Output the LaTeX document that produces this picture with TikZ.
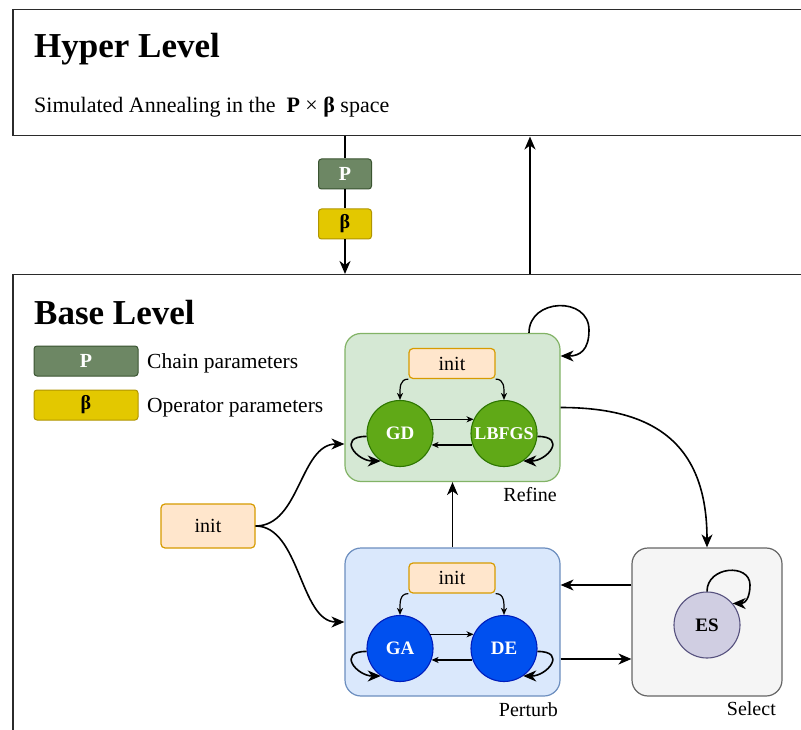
\documentclass[tikz,border=0pt]{standalone}
\usepackage{fontspec}
\setmainfont{Liberation Serif}
\usetikzlibrary{arrows.meta}
\definecolor{outer}{HTML}{2B2B2B}
\definecolor{pfill}{HTML}{6D8764}
\definecolor{pborder}{HTML}{3A5431}
\definecolor{bfill}{HTML}{E3C800}
\definecolor{bborder}{HTML}{B09500}
\definecolor{rfill}{HTML}{D5E8D4}
\definecolor{rborder}{HTML}{82B366}
\definecolor{ptfill}{HTML}{DAE8FC}
\definecolor{ptborder}{HTML}{6C8EBF}
\definecolor{sfill}{HTML}{F5F5F5}
\definecolor{sborder}{HTML}{666666}
\definecolor{ifill}{HTML}{FFE6CC}
\definecolor{iborder}{HTML}{D79B00}
\definecolor{gdfill}{HTML}{60A917}
\definecolor{gdborder}{HTML}{2D7600}
\definecolor{gafill}{HTML}{0050EF}
\definecolor{gaborder}{HTML}{001DBC}
\definecolor{esfill}{HTML}{D0CEE2}
\definecolor{esborder}{HTML}{56517E}
\tikzset{
  lvl/.style={draw=outer, line width=1.5pt, anchor=north west, minimum width=830pt, inner sep=0pt},
  parbox/.style={rounded corners=3pt, line width=1pt, minimum height=30pt, inner sep=0pt, font=\bfseries\fontsize{20}{22}\selectfont},
  chainbox/.style={parbox, draw=pborder, fill=pfill, text=white},
  opbox/.style={parbox, draw=bborder, fill=bfill, text=black},
  initbox/.style={draw=iborder, fill=ifill, rounded corners=4pt, line width=1.2pt, minimum width=86pt, minimum height=30pt, inner sep=0pt, font=\fontsize{20}{22}\selectfont},
  group/.style={rounded corners=16pt, line width=1.2pt, minimum width=215pt, minimum height=148pt, inner sep=0pt},
  alg/.style={circle, minimum size=66pt, inner sep=0pt, line width=1.1pt, font=\bfseries\fontsize{19}{21}\selectfont},
  arr/.style={-{Stealth[length=13pt,width=11pt,inset=4pt]}, line width=1.6pt},
  sarr/.style={-{Stealth[length=7pt,width=6pt,inset=2pt]}, line width=1.2pt},
  lbl/.style={anchor=base east, inner sep=0pt, font=\fontsize{20}{22}\selectfont},
  title/.style={anchor=base west, inner sep=0pt, font=\bfseries\fontsize{35}{40}\selectfont},
  txt/.style={anchor=base west, inner sep=0pt, font=\fontsize{21.5}{24}\selectfont}
}
\begin{document}
\begin{tikzpicture}[x=1pt,y=-1pt]
\useasboundingbox (0,0) rectangle (801,730);
\clip (0,0) rectangle (801,730);
\fill[white] (0,0) rectangle (801,730);

% levels
\node[lvl, minimum height=126pt] (hyper) at (12,9) {};
\node[lvl, minimum height=500pt] (base) at (12,274) {};
\node[title] (htitle) at (34,58) {Hyper Level};
\node[txt, font=\fontsize{22}{24}\selectfont] (hsub) at (34,113) {Simulated Annealing in the \ \textbf{P} × \textbf{β} space};
\node[title] (btitle) at (34,324) {Base Level};

% hyper -> base parameters
\node[chainbox, minimum width=53pt] (hp) at (345,174) {P};
\node[opbox, minimum width=53pt] (hb) at (345,224) {β};
\draw[line width=1.6pt] (hyper.south -| hp) -- (hp.north);
\draw[line width=1.6pt] (hp.south) -- (hb.north);
\draw[arr] (hb.south) -- (base.north -| hb);
\coordinate (upx) at (530,0);
\draw[arr] (base.north -| upx) -- (hyper.south -| upx);

% legend
\node[chainbox, minimum width=104pt] (lp) at (86,361) {P};
\node[opbox, minimum width=104pt] (lb) at (86,405) {β};
\node[txt] (lpt) at (147,368) {Chain parameters};
\node[txt] (lbt) at (147,412) {Operator parameters};

% groups
\node[group, fill=rfill, draw=rborder] (refine) at (452.5,407.5) {};
\node[group, fill=ptfill, draw=ptborder] (perturb) at (452.5,622) {};
\node[group, fill=sfill, draw=sborder, minimum width=150pt] (select) at (707,622) {};
\node[lbl] (refl) at (557,501) {Refine};
\node[lbl] (perl) at (558,716) {Perturb};
\node[lbl] (sell) at (776,715) {Select};

% refine contents
\node[initbox] (rinit) at (452,363.5) {init};
\node[alg, fill=gdfill, draw=gdborder, text=white] (gd) at (400,433.5) {GD};
\node[alg, fill=gdfill, draw=gdborder, text=white, font=\bfseries\fontsize{18}{20}\selectfont] (lbfgs) at (504,433.5) {LBFGS};
\draw[sarr] (rinit.south west) .. controls +(-9,0) and +(0,-12) .. (gd.north);
\draw[sarr] (rinit.south east) .. controls +(9,0) and +(0,-12) .. (lbfgs.north);
\draw[sarr] (gd.25) -- (lbfgs.155);
\draw[sarr] (lbfgs.-160) -- (gd.-20);
\draw[arr] (gd.185) .. controls +(-30,0) and +(-24,0) .. (gd.235);
\draw[arr] (lbfgs.-5) .. controls +(30,0) and +(24,0) .. (lbfgs.-55);

% perturb contents
\node[initbox] (pinit) at (452,578) {init};
\node[alg, fill=gafill, draw=gaborder, text=white] (ga) at (400,648.5) {GA};
\node[alg, fill=gafill, draw=gaborder, text=white] (de) at (504,648.5) {DE};
\draw[sarr] (pinit.south west) .. controls +(-9,0) and +(0,-12) .. (ga.north);
\draw[sarr] (pinit.south east) .. controls +(9,0) and +(0,-12) .. (de.north);
\draw[sarr] (ga.25) -- (de.155);
\draw[sarr] (de.-160) -- (ga.-20);
\draw[arr] (ga.185) .. controls +(-30,0) and +(-24,0) .. (ga.235);
\draw[arr] (de.-5) .. controls +(30,0) and +(24,0) .. (de.-55);

% select contents
\node[alg, fill=esfill, draw=esborder, text=black] (es) at (707,625) {ES};
\draw[arr] (es.north) .. controls (707,566) and (750,563) .. (750,585)
                      .. controls (750,598) and (745,603.5) .. (es.40);

% outer init
\node[initbox, minimum width=94pt, minimum height=44pt] (oinit) at (208,526) {init};
\coordinate (yr) at (0,444);
\draw[arr] (oinit.east) .. controls (300,526) and (300,444) .. (refine.west |- yr);
\draw[arr] (oinit.east) .. controls (300,526) and (300,622) .. (perturb.west);

% group connectors
\draw[arr] (perturb.north) -- (refine.south);
\draw[arr] (refine.east) .. controls (650,407.5) and (707,440) .. (select.north);
\coordinate (ya) at (0,585);
\coordinate (yb) at (0,659);
\draw[arr] (select.west |- ya) -- (perturb.east |- ya);
\draw[arr] (perturb.east |- yb) -- (select.west |- yb);
\coordinate (rla) at (529,0);
\draw[arr] (refine.north -| rla) .. controls (529,298) and (589,296) .. (589,330)
           .. controls (589,350) and (580,356) .. (refine.east |- {0,356});
\end{tikzpicture}
\end{document}
